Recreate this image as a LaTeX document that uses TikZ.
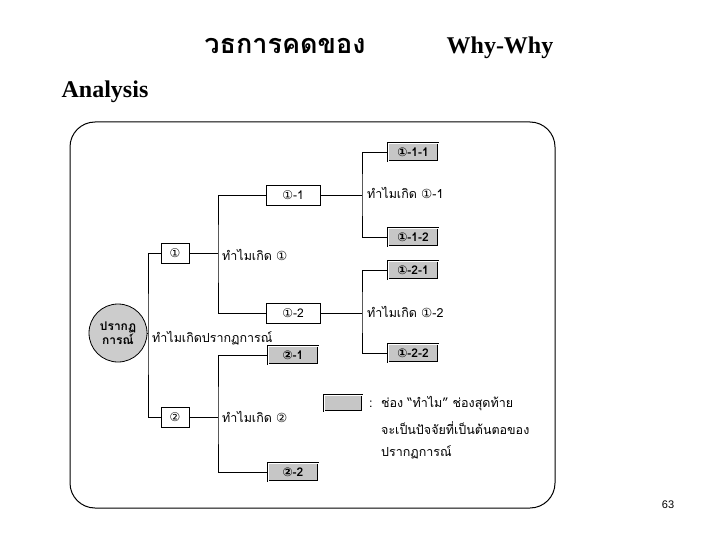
\documentclass[tikz,border=0pt]{standalone}
\usepackage{fontspec}
\setmainfont{Liberation Serif}
\newfontfamily\thaifont[Script=Thai]{Loma}
\newfontfamily\dv{DejaVu Sans}
\newfontfamily\lsans{Liberation Sans}
\newcommand{\ca}{{\dv ①}}
\newcommand{\cb}{{\dv ②}}
\begin{document}
\begin{tikzpicture}[x=1pt,y=-1pt,
  wbox/.style={draw,thick,fill=white,minimum height=20pt,inner sep=2pt,font=\thaifont\fontsize{12}{13}\selectfont},
  gbox/.style={draw,double,thick,fill=gray!45,minimum height=18pt,minimum width=50pt,inner sep=2pt,font=\thaifont\bfseries\fontsize{12}{13}\selectfont},
  lab/.style={anchor=west,inner sep=1pt,font=\thaifont\fontsize{12.5}{13}\selectfont},
  ln/.style={line width=0.7pt}]
\useasboundingbox (0,0) rectangle (720,540);
\node[font=\thaifont\bfseries\fontsize{27}{29}\selectfont] (t1) at (285,46) {วธการคดของ};
\node[font=\bfseries\fontsize{24}{26}\selectfont] (t2) at (500,48) {Why-Why};
\node[font=\bfseries\fontsize{24}{26}\selectfont] (t3) at (105,92) {Analysis};
\draw[line width=1pt,rounded corners=25pt] (70,122) rectangle (555,508);
\node[circle,draw,thick,fill=gray!40,minimum size=58pt,inner sep=0pt,align=center,font=\thaifont\bfseries\fontsize{12}{13}\selectfont] (r) at (118,333) {ปรากฏ\\การณ์};
\node[wbox,minimum width=28pt] (a) at (175,253) {\ca};
\node[wbox,minimum width=28pt] (b) at (175,417) {\cb};
\node[wbox,minimum width=54pt] (a1) at (293,195) {\ca-1};
\node[wbox,minimum width=54pt] (a2) at (293,313) {\ca-2};
\node[gbox] (b1) at (293,355) {\cb-1};
\node[gbox] (b2) at (293,472) {\cb-2};
\node[gbox] (a11) at (413,152) {\ca-1-1};
\node[gbox] (a12) at (413,237) {\ca-1-2};
\node[gbox] (a21) at (413,270) {\ca-2-1};
\node[gbox] (a22) at (413,353) {\ca-2-2};
\node[gbox,minimum width=38pt,minimum height=16pt] (lg) at (343,403) {};
\coordinate (j0) at (148,333);
\coordinate (ja) at (218,253);
\coordinate (jb) at (218,417);
\coordinate (ja1) at (362,195);
\coordinate (ja2) at (362,313);
\draw[ln] (r.east) -- (j0);
\draw[ln] (a.west) -| (j0) |- (b.west);
\draw[ln] (a.east) -- (ja);
\draw[ln] (a1.west) -| (ja) |- (a2.west);
\draw[ln] (b.east) -- (jb);
\draw[ln] (b1.west) -| (jb) |- (b2.west);
\draw[ln] (a1.east) -- (ja1);
\draw[ln] (a11.west) -| (ja1) |- (a12.west);
\draw[ln] (a2.east) -- (ja2);
\draw[ln] (a21.west) -| (ja2) |- (a22.west);
\node[lab] (l0) at (151,338) {ทำไมเกิดปรากฏการณ์};
\node[lab] (l1) at (221,255) {ทำไมเกิด \ca};
\node[lab] (l2) at (221,417) {ทำไมเกิด \cb};
\node[lab] (l3) at (366,193) {ทำไมเกิด \ca-1};
\node[lab] (l4) at (366,312) {ทำไมเกิด \ca-2};
\node[lab] (m1) at (368,404) {:\ \ ช่อง “ทำไม” ช่องสุดท้าย};
\node[lab] (m2) at (380,428) {จะเป็นปัจจัยที่เป็นต้นตอของ};
\node[lab] (m3) at (380,452) {ปรากฏการณ์};
\node[font=\lsans\fontsize{11}{12}\selectfont] (pg) at (668,505) {63};
\end{tikzpicture}
\end{document}
